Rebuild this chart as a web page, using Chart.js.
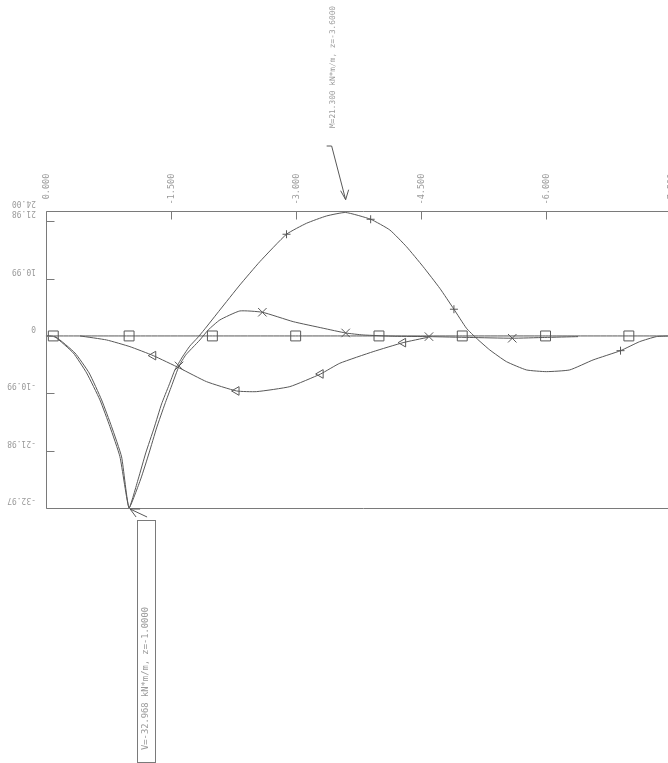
<!DOCTYPE html>
<html><head><meta charset="utf-8">
<script src="https://cdn.jsdelivr.net/npm/chart.js@4/dist/chart.umd.min.js"></script>
<style>
html,body{margin:0;padding:0;background:#fff;overflow:hidden;width:668px;height:763px;}
#wrap{position:absolute;left:0;top:0;width:700px;height:763px;}
</style></head><body>
<div id="wrap"><canvas id="c" width="700" height="763"></canvas></div>
<script>
// ---- axis ticks ----
const xTicks = [0, -1.5, -3, -4.5, -6, -7.5];
const xTickLabels = ['0.000', '-1.500', '-3.000', '-4.500', '-6.000', '-7.500'];
const yTicks = [-32.968, -21.979, -10.989, 0, 10.989, 21.979, 24.0];
const yTickLabels = ['-32.97', '-21.98', '-10.99', '0', '10.99', '21.98', '24.00'];

// ---- series "+" (M) ----
const mZ = [0, -0.11, -0.33, -0.49, -0.65, -0.77, -0.89, -1.0, -1.11, -1.2, -1.3, -1.39, -1.48, -1.55, -1.64, -1.73, -1.82, -1.9, -2.09, -2.33, -2.57, -2.89, -3.13, -3.37, -3.6, -3.9, -4.13, -4.33, -4.53, -4.73, -4.9, -5.05, -5.17, -5.33, -5.53, -5.77, -6.01, -6.29, -6.57, -6.9, -7.13, -7.33, -7.5];
const mV = [0, -0.19, -3.26, -7.09, -12.26, -17.38, -23.13, -32.968, -27.4, -22.42, -17.63, -13.03, -9.39, -6.51, -4.02, -1.92, -0.38, 1.15, 4.98, 9.77, 14.24, 19.49, 21.59, 22.99, 23.66, 22.36, 20.31, 17.11, 13.28, 9.14, 5.12, 1.48, -0.44, -2.68, -4.92, -6.51, -6.84, -6.51, -4.6, -2.82, -1.09, -0.13, 0];
const mMarks = [-2.89, -3.9, -4.9, -6.9];

// ---- series "x" ----
const xsZ = [0, -0.12, -0.35, -0.52, -0.67, -0.79, -0.91, -1.0, -1.14, -1.24, -1.33, -1.43, -1.51, -1.6, -1.68, -1.77, -1.85, -1.95, -2.09, -2.33, -2.6, -2.97, -3.33, -3.6, -3.81, -4.19, -4.6, -5.09, -5.6, -5.99, -6.39];
const xsV = [0, -0.19, -3.26, -7.09, -12.26, -17.38, -23.18, -32.968, -27.4, -22.42, -17.63, -13.03, -9.58, -5.75, -3.64, -2.11, -0.77, 1.15, 3.07, 4.79, 4.54, 2.74, 1.48, 0.57, 0.19, -0.06, -0.13, -0.29, -0.44, -0.29, -0.13];
const xsMarks = [-1.6, -2.6, -3.6, -4.6, -5.6];

// ---- series triangle ----
const tZ = [-0.41, -0.73, -1.01, -1.29, -1.61, -1.93, -2.29, -2.53, -2.93, -3.3, -3.53, -3.93, -4.29, -4.59];
const tV = [0, -0.77, -2.05, -3.77, -6.19, -8.76, -10.54, -10.67, -9.71, -7.28, -5.23, -3.01, -1.28, -0.25];
const tMarks = [-1.29, -2.29, -3.3, -4.29];

// ---- series square ----
const sZ = [0, -0.09, -1, -2, -3, -4, -5, -6, -7, -7.5];
const sV = [0, 0, 0, 0, 0, 0, 0, 0, 0, 0];
const sMarks = [-0.09, -1, -2, -3, -4, -5, -6, -7];

// ---- annotations ----
const noteM = 'M=21.300 kN*m/m, z=-3.6000';
const noteMz = -3.6;
const noteV = 'V=-32.968 kN*m/m, z=-1.0000';
const noteVz = -1.0, noteVv = -32.968;

const LINE = '#585858', FRAME = '#7a7a7a', TXT = '#9a9a9a';
const MONO = '"DejaVu Sans Mono", "Liberation Mono", monospace';

function pts(z, v) { return z.map((q, i) => ({x: q, y: v[i]})); }
function ds(z, v, marks, style, r, rot) {
  return {
    data: pts(z, v), borderColor: LINE, borderWidth: 1, tension: 0.15,
    pointStyle: style, pointRotation: rot || 0,
    pointRadius: c => (c.raw && marks.includes(c.raw.x)) ? r : 0,
    pointBorderColor: LINE, pointBackgroundColor: 'rgba(0,0,0,0)', pointBorderWidth: 1,
    pointHoverRadius: 0, fill: false
  };
}

const deco = {
  id: 'deco',
  afterDatasetsDraw(chart) {
    const {ctx, chartArea: a, scales: {x, y}} = chart;
    ctx.save();
    ctx.strokeStyle = FRAME; ctx.lineWidth = 1;
    const L = Math.round(a.left) + 0.5, T = Math.round(a.top) + 0.5, B = Math.round(a.bottom) + 0.5;
    ctx.beginPath();
    ctx.moveTo(a.right + 10, T); ctx.lineTo(L, T); ctx.lineTo(L, B); ctx.lineTo(a.right + 10, B);
    xTicks.forEach(v => { const px = Math.round(x.getPixelForValue(v)) + 0.5; ctx.moveTo(px, T); ctx.lineTo(px, T + 8); });
    yTicks.slice(0, 6).forEach(v => { const py = Math.round(y.getPixelForValue(v)) + 0.5; ctx.moveTo(L, py); ctx.lineTo(L + 8, py); });
    ctx.stroke();

    // x labels (rotated, reading upward, end-aligned at top)
    ctx.fillStyle = TXT; ctx.font = '8.5px ' + MONO; ctx.textBaseline = 'middle';
    xTicks.forEach((v, i) => {
      const px = x.getPixelForValue(v);
      ctx.save(); ctx.translate(px + 1, a.top - 37); ctx.rotate(-Math.PI / 2);
      ctx.textAlign = 'right'; ctx.fillText(xTickLabels[i], 0, 0); ctx.restore();
    });
    // y labels (upside down)
    ctx.font = '8px ' + MONO;
    yTicks.forEach((v, i) => {
      const py = y.getPixelForValue(v);
      ctx.save(); ctx.translate(36, Math.min(py, a.bottom) - 8); ctx.rotate(Math.PI);
      ctx.textAlign = 'left'; ctx.fillText(yTickLabels[i], 0, 0); ctx.restore();
    });

    // M annotation
    const mx = x.getPixelForValue(noteMz), tipY = a.top - 11;
    ctx.strokeStyle = LINE;
    ctx.beginPath();
    ctx.moveTo(mx - 19, 146); ctx.lineTo(mx - 14, 146); ctx.lineTo(mx, tipY);
    ctx.moveTo(mx - 5, tipY - 9); ctx.lineTo(mx, tipY); ctx.lineTo(mx + 3, tipY - 10);
    ctx.stroke();
    ctx.fillStyle = TXT; ctx.font = '7.8px ' + MONO;
    ctx.save(); ctx.translate(mx - 13, 128); ctx.rotate(-Math.PI / 2);
    ctx.textAlign = 'left'; ctx.fillText(noteM, 0, 0); ctx.restore();

    // V annotation
    const vx = x.getPixelForValue(noteVz), vy = y.getPixelForValue(noteVv);
    ctx.strokeStyle = LINE;
    ctx.beginPath();
    ctx.moveTo(vx + 18, vy + 9); ctx.lineTo(vx + 1, vy + 1);
    ctx.moveTo(vx + 7, vy + 9); ctx.lineTo(vx + 1, vy + 1); ctx.lineTo(vx + 11, vy + 1);
    ctx.stroke();
    ctx.strokeStyle = FRAME;
    ctx.strokeRect(Math.round(vx + 8) + 0.5, Math.round(vy + 12) + 0.5, 18, 762 - Math.round(vy + 12));
    ctx.fillStyle = TXT; ctx.font = '8.8px ' + MONO;
    ctx.save(); ctx.translate(vx + 17, 750); ctx.rotate(-Math.PI / 2);
    ctx.textAlign = 'left'; ctx.fillText(noteV, 0, 0); ctx.restore();
    ctx.restore();
  }
};

new Chart(document.getElementById('c'), {
  type: 'line',
  data: {
    datasets: [
      ds(sZ, sV, sMarks, 'rect', 7, 0),
      ds(tZ, tV, tMarks, 'triangle', 5, -90),
      ds(xsZ, xsV, xsMarks, 'crossRot', 6, 0),
      ds(mZ, mV, mMarks, 'cross', 4, 0)
    ]
  },
  options: {
    responsive: false, animation: false, events: [],
    devicePixelRatio: 1,
    layout: {padding: {left: 45.8, top: 210.7, right: 29.5, bottom: 255}},
    plugins: {legend: {display: false}, tooltip: {enabled: false}, title: {display: false}},
    scales: {
      x: {
        type: 'linear', position: 'top', min: -7.5, max: 0, reverse: true,
        afterBuildTicks: s => { s.ticks = xTicks.map(v => ({value: v})); },
        afterFit: s => { s.height = 0; s.paddingLeft = 0; s.paddingRight = 0; },
        ticks: {display: false}, grid: {display: false}, border: {display: false}
      },
      y: {
        type: 'linear', min: -32.968, max: 24.0,
        afterBuildTicks: s => { s.ticks = yTicks.map(v => ({value: v})); },
        afterFit: s => { s.width = 0; },
        ticks: {display: false}, grid: {display: false}, border: {display: false}
      }
    }
  },
  plugins: [deco]
});
</script>
</body></html>
